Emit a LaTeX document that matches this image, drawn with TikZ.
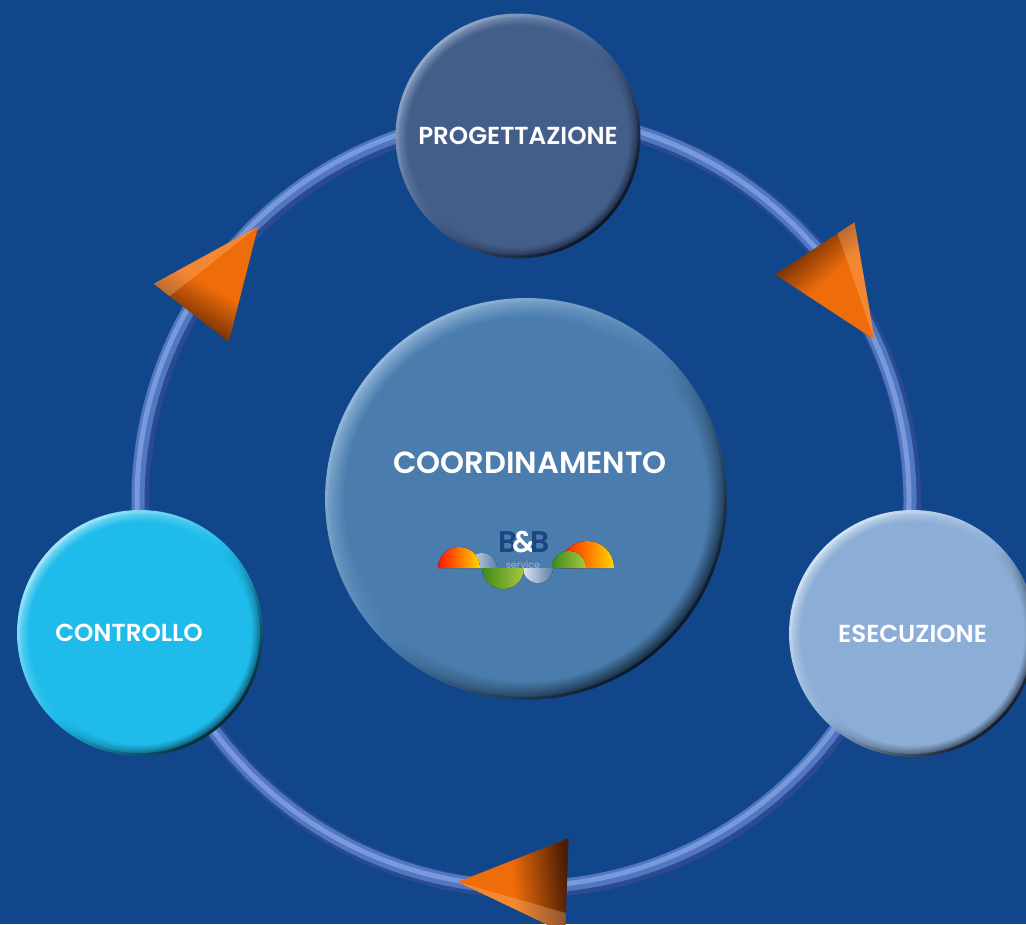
\documentclass[tikz,border=0pt]{standalone}
\usepackage{fontspec}
\setmainfont{Poppins}[BoldFont={Poppins SemiBold}]
\usepackage{xcolor}
\usepackage{tikz}
\usetikzlibrary{shadings, fadings, calc, positioning}

\definecolor{fond}{HTML}{12468A}
\definecolor{anneau}{HTML}{2C4A92}
\definecolor{anneaumoyen}{HTML}{5176C2}
\definecolor{anneauclair}{HTML}{7899DA}
\definecolor{prog}{HTML}{445E8A}
\definecolor{progclair}{HTML}{93A8C8}
\definecolor{progsombre}{HTML}{0C1424}
\definecolor{coord}{HTML}{4A7DAE}
\definecolor{coordclair}{HTML}{95B8DA}
\definecolor{coordsombre}{HTML}{0A1826}
\definecolor{ctrl}{HTML}{1FBBEB}
\definecolor{ctrlclair}{HTML}{A0E6F9}
\definecolor{ctrlsombre}{HTML}{062834}
\definecolor{esec}{HTML}{8CADD5}
\definecolor{esecclair}{HTML}{D2E2F3}
\definecolor{esecsombre}{HTML}{161C28}
\definecolor{fleche}{HTML}{EE6C0A}
\definecolor{flechesombre}{HTML}{4A1C04}
\definecolor{flecheclair}{HTML}{FFC890}
\definecolor{logobleu}{HTML}{1C4482}
\definecolor{logogris}{HTML}{9DB3CE}
\definecolor{logociel}{HTML}{DCE6F0}
\definecolor{logoacier}{HTML}{5A7EAA}
\definecolor{logovert}{HTML}{3F8A1C}
\definecolor{logovertclair}{HTML}{A6C83E}

% une flèche orange posée sur l'anneau
\newcommand{\fleche}[1]{%
  \begin{scope}[shift={(O)}, rotate=#1]
    \shade[top color=flechesombre, bottom color=fleche, middle color=fleche, shading angle=#1]
      (432,-6.7) -- (369.5,-108.1) -- (338,6.7) -- cycle;
    \fill[flecheclair, opacity=0.3] (432,-6.7) -- (369.5,-108.1) -- (412,-3.8) -- cycle;
  \end{scope}}

\begin{document}
\begin{tikzpicture}[x=0.02cm, y=0.02cm,
    bulle/.style n args={4}{circle, inner sep=0pt, minimum size=2*#1,
      top color=#3, bottom color=#4, middle color=#2, shading angle=45,
      path picture={\fill[#2, path fading=circle with fuzzy edge 10 percent]
        (path picture bounding box.center) circle ({#1-0.06cm});},
      text=white, font=\bfseries\fontsize{14}{14}\selectfont},
    titre/.style={text=white, font=\bfseries\fontsize{17.4}{17.4}\selectfont},
    orange/.style={left color=red!85!orange, right color=yellow!70!orange},
    vert/.style={left color=logovert, right color=logovertclair},
    gris/.style={left color=logociel, right color=logoacier}
    ]

    \useasboundingbox (0,0) rectangle (1026,924);
    \fill[fond] (0,0) rectangle (1026,924);

    % L'anneau
    \coordinate (O) at (526,421);
    \draw[anneau, line width=0.36cm] (O) circle (386);
    \draw[anneaumoyen, line width=0.26cm] ([shift={(-2,2)}]O) circle (386);
    \draw[anneauclair, line width=0.1cm] ([shift={(-3,3)}]O) circle (386);

    % Les flèches
    \fleche{41.4}
    \fleche{150.4}
    \fleche{-83.9}

    % Les cercles
    \node[bulle={2.45cm}{prog}{progclair}{progsombre}] (prog) at (518,788) {PROGETTAZIONE};
    \node[bulle={2.47cm}{esec}{esecclair}{esecsombre}] (esec) at (912.5,290.5) {ESECUZIONE};
    \node[bulle={2.46cm}{ctrl}{ctrlclair}{ctrlsombre}] (ctrl) at (140,291) {CONTROLLO\hspace*{0.44cm}};
    \node[bulle={4.02cm}{coord}{coordclair}{coordsombre}] (coord) at (526,425) {};
    \node[titre] (tcoord) at (530,461) {COORDINAMENTO};

    % Le logo
    \fill[gris] (467,356) arc[start angle=180, end angle=0, radius=15] -- cycle;
    \fill[orange] (438,356) arc[start angle=180, end angle=0, radius=21] -- cycle;
    \fill[orange] (560,356) arc[start angle=180, end angle=0, radius=27] -- cycle;
    \fill[vert] (552,356) arc[start angle=180, end angle=0, radius=17] -- cycle;
    \fill[gris] (523,356) arc[start angle=180, end angle=360, radius=15] -- cycle;
    \fill[vert] (482,356) arc[start angle=180, end angle=360, radius=21] -- cycle;
    \node[text=logogris, font=\fontsize{5.5}{5.5}\selectfont, inner sep=0pt] (service) at (523,359) {service};
    \node[font=\bfseries\fontsize{17}{17}\selectfont, inner sep=0pt] (bb) at (524,382)
      {\textcolor{logobleu}{B}\kern-3pt\textcolor{white}{\&}\kern-3pt\textcolor{logobleu}{B}};
\end{tikzpicture}
\end{document}
